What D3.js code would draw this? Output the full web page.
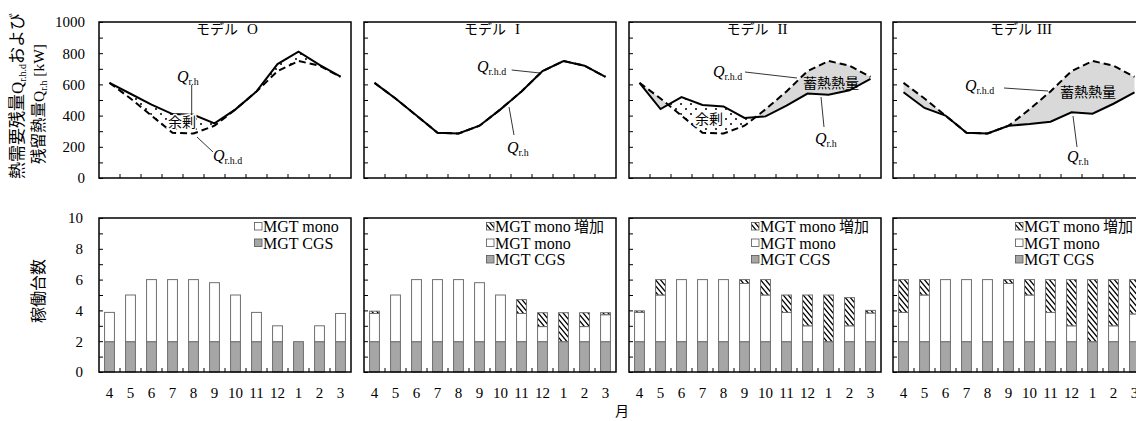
<!DOCTYPE html>
<html>
<head>
<meta charset="utf-8">
<script src="https://cdn.jsdelivr.net/npm/d3@7"></script>
<style>
  body { margin: 0; background: #fff; }
  svg { display: block; }
</style>
</head>
<body>
<div id="chart"></div>
<script>
// months (April to March)
var months = ["4", "5", "6", "7", "8", "9", "10", "11", "12", "1", "2", "3"];
var modelNames = ["O", "I", "II", "III"];

// heat demand remaining Q_r.h.d [kW] (same for every model)
var demand = [610, 510, 400, 290, 285, 335, 440, 555, 685, 750, 720, 648];

// residual heat Q_r.h [kW]
var residualO = [610, 540, 470, 410, 405, 350, 440, 555, 730, 810, 725, 650];
var residualI = [610, 510, 400, 290, 285, 335, 440, 555, 685, 750, 720, 648];
var residualII = [610, 442, 519, 468, 459, 385, 395, 464, 541, 534, 562, 635];
var residualIII = [550, 449, 400, 290, 285, 335, 346, 361, 421, 412, 476, 549];

// operating units
var cgsUnits = [1.97, 1.97, 1.97, 1.97, 1.97, 1.97, 1.97, 1.97, 1.97, 1.97, 1.97, 1.97];
var monoO = [1.9, 3.03, 4.03, 4.03, 4.03, 3.83, 3.03, 1.9, 1.03, 0, 1.03, 1.83];
var incO = [0, 0, 0, 0, 0, 0, 0, 0, 0, 0, 0, 0];
var monoI = [1.83, 3.03, 4.03, 4.03, 4.03, 3.83, 3.03, 1.83, 0.98, 0, 0.98, 1.75];
var incI = [0.15, 0, 0, 0, 0, 0, 0, 0.9, 0.9, 1.88, 0.9, 0.13];
var monoII = [1.9, 3.03, 4.03, 4.03, 4.03, 3.78, 3.03, 1.9, 1.03, 0, 1.03, 1.86];
var incII = [0.1, 1, 0, 0, 0, 0.25, 1, 1.13, 2, 3.03, 1.83, 0.17];
var monoIII = [1.9, 3.03, 4.03, 4.03, 4.03, 3.78, 3.03, 1.9, 1.03, 0, 1.03, 1.8];
var incIII = [2.13, 1, 0, 0, 0, 0.25, 1, 2.13, 3, 4.03, 3, 2.23];

(function () {
  var W = 1136, H = 421;
  var SERIF = "'Liberation Serif', 'Times New Roman', serif";
  var CJK = "'Noto Sans CJK JP', 'Noto Sans', sans-serif";

  var panelLeft = [99, 364, 629, 893];
  var panelW = 252;
  var topY0 = 22, topH = 156;
  var botY0 = 218, botH = 154;

  var residuals = [residualO, residualI, residualII, residualIII];
  var monos = [monoO, monoI, monoII, monoIII];
  var incs = [incO, incI, incII, incIII];

  // annotation layout per panel (x relative to panel left)
  var notes = [
    { qh: [78, 82], qhLine: [92.7, 85, 92.7, 115], qhd: [114, 161], qhdLine: [98, 137, 114, 152], surplus: [69, 127] },
    { qh: [143, 153], qhLine: [145, 107, 150, 135], qhd: [113, 72], qhdLine: [147.7, 70, 176, 73] },
    { qh: [186, 144], qhLine: [192, 97, 195, 127], qhd: [84, 77], qhdLine: [116, 72, 168, 78], surplus: [66, 124], store: [174, 88] },
    { qh: [174, 162], qhLine: [180, 116, 184, 147], qhd: [72, 91], qhdLine: [111, 88, 155, 91], store: [167, 97] }
  ];

  var svg = d3.select("#chart").append("svg")
    .attr("width", W).attr("height", H)
    .attr("viewBox", "0 0 " + W + " " + H);

  var defs = svg.append("defs");
  var hatch = defs.append("pattern")
    .attr("id", "hatch").attr("patternUnits", "userSpaceOnUse")
    .attr("width", 5).attr("height", 6);
  hatch.append("rect").attr("width", 5).attr("height", 6).attr("fill", "#fff");
  hatch.append("path")
    .attr("d", "M0,0L5,6M-1,4.8L1,7.2M4,-1.2L6,1.2")
    .attr("stroke", "#000").attr("stroke-width", 1.3);

  var dots = defs.append("pattern")
    .attr("id", "dots").attr("patternUnits", "userSpaceOnUse")
    .attr("width", 10).attr("height", 10);
  dots.append("rect").attr("width", 10).attr("height", 10).attr("fill", "#fff");
  dots.append("circle").attr("cx", 2).attr("cy", 2).attr("r", 1).attr("fill", "#000");
  dots.append("circle").attr("cx", 7).attr("cy", 7).attr("r", 1).attr("fill", "#000");

  var x = d3.scaleBand().domain(months).range([0, panelW])
    .paddingInner(0.53).paddingOuter(0.265);
  var yTop = d3.scaleLinear().domain([0, 1000]).range([topH, 0]);
  var yBot = d3.scaleLinear().domain([0, 10]).range([botH, 0]);

  function cx(t) {
    return x(months[0]) + x.bandwidth() / 2 + t * x.step();
  }

  var boundaries = months.slice(1).map(function (m) {
    return x(m) - x.step() * x.paddingInner() / 2;
  });

  // points of both curves, with crossings inserted so fills close exactly
  function splitPoints(s, d) {
    var pts = [];
    for (var i = 0; i < s.length; i++) {
      pts.push({ t: i, s: s[i], d: d[i] });
      if (i < s.length - 1) {
        var a = d[i] - s[i], b = d[i + 1] - s[i + 1];
        if (a * b < 0) {
          var f = a / (a - b);
          var v = s[i] + f * (s[i + 1] - s[i]);
          pts.push({ t: i + f, s: v, d: v });
        }
      }
    }
    return pts;
  }

  function addQ(sel, sub, size) {
    sel.append("tspan").attr("font-style", "italic").attr("font-size", size).text("Q");
    sel.append("tspan").attr("font-size", size * 0.62).attr("dy", 3).text(sub);
  }

  function frame(g, h) {
    g.append("rect")
      .attr("width", panelW).attr("height", h)
      .attr("fill", "none").attr("stroke", "#000").attr("stroke-width", 1.5);
    g.selectAll(".xtick")
      .data(boundaries)
      .join("line")
      .attr("class", "xtick")
      .attr("x1", function (d) { return d; }).attr("x2", function (d) { return d; })
      .attr("y1", h).attr("y2", h - 4)
      .attr("stroke", "#000").attr("stroke-width", 1);
  }

  panelLeft.forEach(function (left, pi) {
    var res = residuals[pi];
    var note = notes[pi];

    // ── Top: heat curves ─────────────────────────────
    var gt = svg.append("g").attr("transform", "translate(" + left + "," + topY0 + ")");
    var pts = splitPoints(res, demand);

    gt.append("path")
      .datum(pts)
      .attr("fill", "#d9d9d9")
      .attr("d", d3.area()
        .x(function (p) { return cx(p.t); })
        .y0(function (p) { return yTop(p.s); })
        .y1(function (p) { return yTop(Math.max(p.s, p.d)); }));

    gt.append("path")
      .datum(pts)
      .attr("fill", "url(#dots)")
      .attr("d", d3.area()
        .x(function (p) { return cx(p.t); })
        .y0(function (p) { return yTop(p.s); })
        .y1(function (p) { return yTop(Math.min(p.s, p.d)); }));

    var line = d3.line()
      .x(function (d, i) { return cx(i); })
      .y(function (d) { return yTop(d); });

    gt.append("path").datum(demand)
      .attr("fill", "none").attr("stroke", "#000").attr("stroke-width", 2)
      .attr("stroke-dasharray", "7,4").attr("d", line);
    gt.append("path").datum(res)
      .attr("fill", "none").attr("stroke", "#000").attr("stroke-width", 2).attr("d", line);

    frame(gt, topH);

    gt.append("g")
      .call(d3.axisLeft(yTop).tickValues(d3.range(0, 1001, 100))
        .tickSize(-4).tickPadding(14)
        .tickFormat(function (d) { return pi === 0 && d % 200 === 0 ? d : ""; }))
      .call(function (a) {
        a.select(".domain").remove();
        a.selectAll("line").attr("stroke", "#000");
        a.selectAll("text").attr("font-family", SERIF).attr("font-size", 15).attr("fill", "#000");
      });

    // title
    var title = gt.append("text")
      .attr("x", panelW / 2 + 2).attr("y", 12)
      .attr("text-anchor", "middle").attr("fill", "#000");
    title.append("tspan").attr("font-family", CJK).attr("font-size", 14).text("モデル");
    title.append("tspan").attr("font-family", SERIF).attr("font-size", 15)
      .attr("dx", modelNames[pi] === "III" ? 5 : 9).text(modelNames[pi]);

    // annotations
    [note.qhLine, note.qhdLine].forEach(function (l) {
      gt.append("line")
        .attr("x1", l[0]).attr("y1", l[1] - topY0)
        .attr("x2", l[2]).attr("y2", l[3] - topY0)
        .attr("stroke", "#000").attr("stroke-width", 0.8);
    });
    var tq = gt.append("text").attr("font-family", SERIF).attr("fill", "#000")
      .attr("x", note.qh[0]).attr("y", note.qh[1] - topY0);
    addQ(tq, "r.h", 16);
    var tqd = gt.append("text").attr("font-family", SERIF).attr("fill", "#000")
      .attr("x", note.qhd[0]).attr("y", note.qhd[1] - topY0);
    addQ(tqd, "r.h.d", 16);

    if (note.surplus) {
      gt.append("text")
        .attr("x", note.surplus[0]).attr("y", note.surplus[1] - topY0)
        .attr("font-family", CJK).attr("font-size", 14)
        .attr("stroke", "#fff").attr("stroke-width", 3).attr("paint-order", "stroke")
        .attr("fill", "#000").text("余剰");
    }
    if (note.store) {
      gt.append("text")
        .attr("x", note.store[0]).attr("y", note.store[1] - topY0)
        .attr("font-family", CJK).attr("font-size", 14)
        .attr("fill", "#000").text("蓄熱熱量");
    }

    // ── Bottom: operating units ──────────────────────
    var gb = svg.append("g").attr("transform", "translate(" + left + "," + botY0 + ")");
    var mono = monos[pi], inc = incs[pi];
    var stacks = months.map(function (m, i) {
      var c = cgsUnits[i];
      return [
        { m: m, y0: 0, y1: c, fill: "#a6a6a6" },
        { m: m, y0: c, y1: c + mono[i], fill: "#fff" },
        { m: m, y0: c + mono[i], y1: c + mono[i] + inc[i], fill: "url(#hatch)" }
      ];
    });
    var segs = [].concat.apply([], stacks).filter(function (s) { return s.y1 - s.y0 > 0.001; });

    gb.selectAll(".seg")
      .data(segs)
      .join("rect")
      .attr("class", "seg")
      .attr("x", function (d) { return x(d.m); })
      .attr("width", x.bandwidth())
      .attr("y", function (d) { return yBot(d.y1); })
      .attr("height", function (d) { return yBot(d.y0) - yBot(d.y1); })
      .attr("fill", function (d) { return d.fill; })
      .attr("stroke", "#6f6f6f").attr("stroke-width", 1);

    frame(gb, botH);

    gb.append("g")
      .call(d3.axisLeft(yBot).tickValues(d3.range(0, 11, 1))
        .tickSize(-4).tickPadding(16)
        .tickFormat(function (d) { return pi === 0 && d % 2 === 0 ? d : ""; }))
      .call(function (a) {
        a.select(".domain").remove();
        a.selectAll("line").attr("stroke", "#000");
        a.selectAll("text").attr("font-family", SERIF).attr("font-size", 15).attr("fill", "#000");
      });

    gb.append("g")
      .attr("transform", "translate(0," + botH + ")")
      .call(d3.axisBottom(x).tickSize(0).tickPadding(15))
      .call(function (a) {
        a.select(".domain").remove();
        a.selectAll("text").attr("font-family", SERIF).attr("font-size", 15).attr("fill", "#000");
      });

    // legend
    var items = pi === 0
      ? [{ label: "MGT mono", fill: "#fff" }, { label: "MGT CGS", fill: "#a6a6a6" }]
      : [{ label: "MGT mono", extra: " 増加", fill: "url(#hatch)" },
         { label: "MGT mono", fill: "#fff" },
         { label: "MGT CGS", fill: "#a6a6a6" }];
    var lx = pi === 0 ? 155 : 122;
    var lg = gb.append("g").attr("transform", "translate(" + lx + ",0)");
    items.forEach(function (it, k) {
      var by = 14 + k * 16.5;
      lg.append("rect")
        .attr("x", 0.5).attr("y", by - 9.5).attr("width", 7.5).attr("height", 7.5)
        .attr("fill", it.fill).attr("stroke", "#555").attr("stroke-width", 0.8);
      var t = lg.append("text").attr("x", 9).attr("y", by)
        .attr("font-family", SERIF).attr("font-size", 16).attr("fill", "#000");
      t.append("tspan").text(it.label);
      if (it.extra) t.append("tspan").attr("font-family", CJK).attr("font-size", 15).text(it.extra);
    });
  });

  // axis titles
  var yl1 = svg.append("text")
    .attr("transform", "translate(23,96) rotate(-90)")
    .attr("text-anchor", "middle").attr("fill", "#000")
    .attr("font-family", CJK).attr("font-size", 17);
  yl1.append("tspan").text("熱需要残量");
  yl1.append("tspan").attr("font-family", SERIF).text("Q");
  yl1.append("tspan").attr("font-family", SERIF).attr("font-size", 10).attr("dy", 3).text("r.h.d");
  yl1.append("tspan").attr("dy", -3).text("および");

  var yl2 = svg.append("text")
    .attr("transform", "translate(44,104) rotate(-90)")
    .attr("text-anchor", "middle").attr("fill", "#000")
    .attr("font-family", CJK).attr("font-size", 15.5);
  yl2.append("tspan").text("残留熱量");
  yl2.append("tspan").attr("font-family", SERIF).text("Q");
  yl2.append("tspan").attr("font-family", SERIF).attr("font-size", 10).attr("dy", 3).text("r.h");
  yl2.append("tspan").attr("font-family", SERIF).attr("dy", -3).text(" [kW]");

  svg.append("text")
    .attr("transform", "translate(44,291) rotate(-90)")
    .attr("text-anchor", "middle").attr("fill", "#000")
    .attr("font-family", CJK).attr("font-size", 16)
    .text("稼働台数");

  svg.append("text")
    .attr("x", 622).attr("y", 416)
    .attr("text-anchor", "middle").attr("fill", "#000")
    .attr("font-family", CJK).attr("font-size", 14)
    .text("月");
})();
</script>
</body>
</html>
